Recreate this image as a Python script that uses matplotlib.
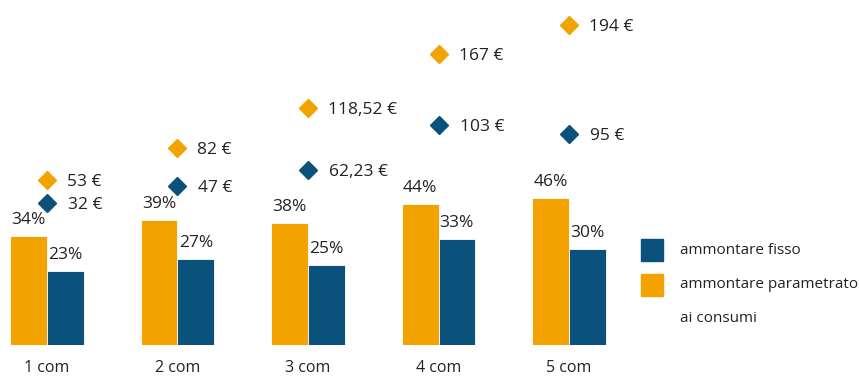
import numpy as np
import matplotlib.pyplot as plt
from matplotlib.patches import Rectangle

plt.rcParams['font.family'] = ['Open Sans', 'DejaVu Sans']

# data
categories = ['1 com', '2 com', '3 com', '4 com', '5 com']
pct_param = [34, 39, 38, 44, 46]      # ammontare parametrato ai consumi (%)
pct_fisso = [23, 27, 25, 33, 30]      # ammontare fisso (%)
eur_param = [53, 82, 118.52, 167, 194]
eur_fisso = [32, 47, 62.23, 103, 95]
eur_param_lbl = ['53 €', '82 €', '118,52 €', '167 €', '194 €']
eur_fisso_lbl = ['32 €', '47 €', '62,23 €', '103 €', '95 €']

orange = '#F3A300'
blue = '#0A517C'
txt = '#222222'

fig = plt.figure(figsize=(8.59, 3.78), dpi=100)
ax = fig.add_axes([0.0, 33/378, 616/859, 335/378])
ax2 = ax.twinx()

x = np.arange(len(categories))
w = 0.28

ax.bar(x - w/2, pct_param, w, color=orange, edgecolor='white', linewidth=0.6)
ax.bar(x + w/2, pct_fisso, w, color=blue, edgecolor='white', linewidth=0.6)
for i in range(len(x)):
    ax.annotate(f'{pct_param[i]}%', (x[i] - w/2, pct_param[i]), xytext=(0, 12),
                textcoords='offset pixels', ha='center', va='baseline', fontsize=12.5, color=txt)
    ax.annotate(f'{pct_fisso[i]}%', (x[i] + w/2, pct_fisso[i]), xytext=(0, 12),
                textcoords='offset pixels', ha='center', va='baseline', fontsize=12.5, color=txt)

ax.set_xlim(-0.36, 4.36)
ax.set_ylim(0, 104.7)

# euro amounts as diamonds on a second scale
ax2.plot(x, eur_param, 'D', color=orange, markersize=9.5, linestyle='none')
ax2.plot(x, eur_fisso, 'D', color=blue, markersize=9.5, linestyle='none')
for i in range(len(x)):
    ax2.annotate(eur_param_lbl[i], (x[i], eur_param[i]), xytext=(20, 0),
                 textcoords='offset pixels', ha='left', va='center_baseline', fontsize=12.5, color=txt)
    ax2.annotate(eur_fisso_lbl[i], (x[i], eur_fisso[i]), xytext=(21, 0),
                 textcoords='offset pixels', ha='left', va='center_baseline', fontsize=12.5, color=txt)
ax2.set_ylim(-97.3, 207.3)

for a in (ax, ax2):
    a.set_yticks([])
    a.set_xticks([])
    for s in a.spines.values():
        s.set_visible(False)

for i, c in enumerate(categories):
    ax.annotate(c, (x[i], 0), xytext=(0, -23), textcoords='offset pixels',
                ha='center', va='center', fontsize=11.5, color=txt)

# legend
H = 378
fig.patches.append(Rectangle((641/859, (H - 261)/H), 22/859, 22/H, transform=fig.transFigure,
                             color=blue))
fig.patches.append(Rectangle((641/859, (H - 296)/H), 22/859, 22/H, transform=fig.transFigure,
                             color=orange))
fig.text(680/859, (H - 250)/H, 'ammontare fisso', ha='left', va='center', fontsize=11, color=txt)
fig.text(680/859, (H - 285)/H, 'ammontare parametrato', ha='left', va='center', fontsize=11, color=txt)
fig.text(680/859, (H - 318)/H, 'ai consumi', ha='left', va='center', fontsize=11, color=txt)

fig.savefig('out.png', dpi=100)
